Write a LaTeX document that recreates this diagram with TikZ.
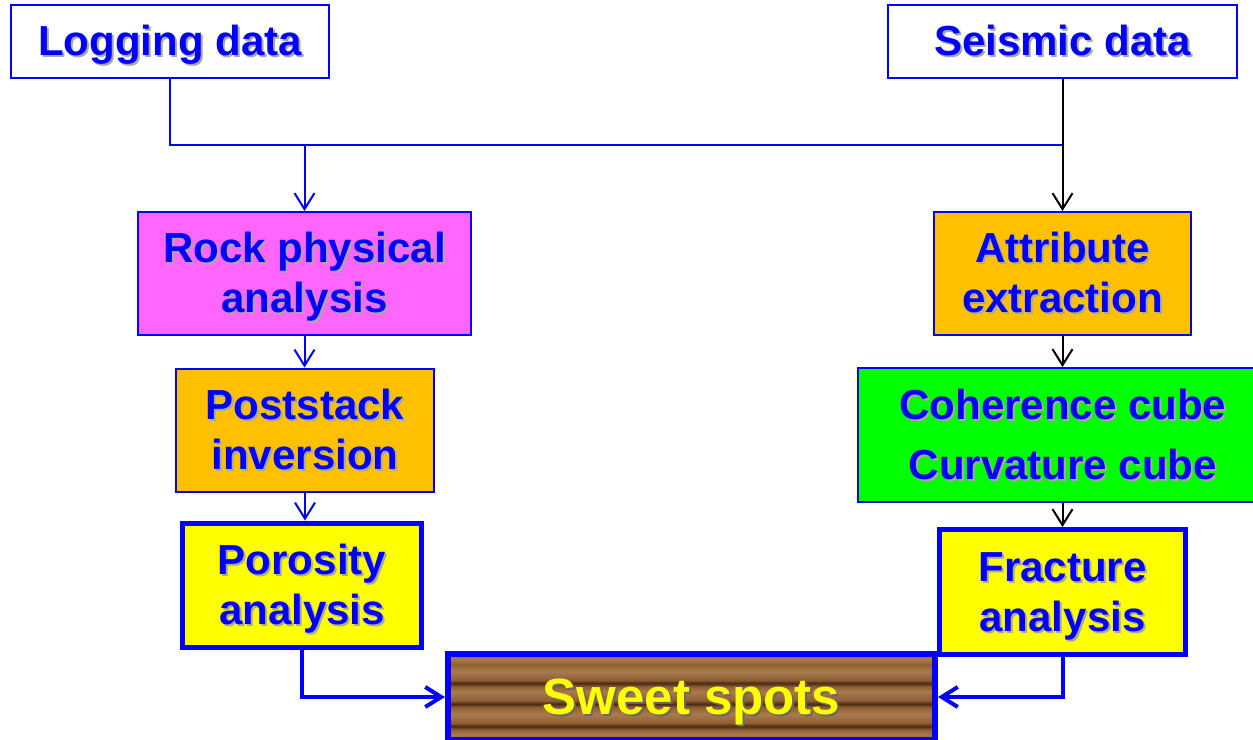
\documentclass[tikz,border=0pt]{standalone}
\usepackage{fontspec}
\setmainfont{Liberation Sans}
\usetikzlibrary{arrows.meta}

\definecolor{lineblue}{HTML}{0000FF}
\definecolor{rockpink}{HTML}{FF66FF}
\definecolor{procorange}{HTML}{FFC000}
\definecolor{cubegreen}{HTML}{00FF00}
\definecolor{resyellow}{HTML}{FFFF00}
\definecolor{txtshadow}{HTML}{A8A8A0}
\definecolor{sweetshadow}{HTML}{6A6A60}
\definecolor{woodlight}{HTML}{A87A4D}
\definecolor{woodmid}{HTML}{8F6035}
\definecolor{wooddark}{HTML}{4B2A12}

% text with a soft drop shadow, one line at a time (boxed to cap height so lines centre alike)
\newcommand{\shad}[2][txtshadow]{\leavevmode\raisebox{0pt}[\fontcharht\font`H][0pt]{\rlap{\kern2pt\raisebox{-2pt}{\color{#1}#2}}#2}}

% horizontal grain of the sweet spots board
\pgfdeclareverticalshading{woodgrain}{100bp}{
  color(0bp)=(woodmid); color(25bp)=(woodmid); color(28bp)=(woodlight);
  color(31bp)=(woodmid); color(33bp)=(wooddark); color(35bp)=(woodmid);
  color(40bp)=(woodlight); color(44bp)=(woodmid); color(46bp)=(wooddark);
  color(48bp)=(woodmid); color(53bp)=(woodlight); color(56bp)=(woodmid);
  color(58bp)=(wooddark); color(60bp)=(woodmid); color(65bp)=(woodlight);
  color(69bp)=(woodmid); color(72bp)=(woodlight); color(75bp)=(woodmid);
  color(100bp)=(woodmid)}

\tikzset{
  box/.style={draw=lineblue, line width=2pt, inner sep=0pt, align=center,
    text=lineblue, font=\fontsize{42}{50}\selectfont\bfseries},
  databox/.style={box, fill=white},
  procbox/.style={box},
  resbox/.style={box, fill=resyellow, line width=5pt},
  sweetbox/.style={box, shading=woodgrain, line width=6pt, text=resyellow,
    font=\fontsize{51}{60}\selectfont\bfseries},
  tip/.style={-{Straight Barb[length=16pt,width=20pt]}},
  wire/.style={draw=lineblue, line width=2pt},
  flow/.style={wire, tip},
  flowblack/.style={draw=black, line width=2pt, tip},
  flowthick/.style={draw=lineblue, line width=4pt, tip}
}

\begin{document}
\begin{tikzpicture}[x=1pt,y=-1pt]
\useasboundingbox (0,0) rectangle (1253,739);
\clip (0,0) rectangle (1253,739);

% inputs
\node[databox, minimum width=318pt, minimum height=73pt] (logging) at (170,41.5) {\shad{Logging data}};
\node[databox, minimum width=349pt, minimum height=73pt] (seismic) at (1062.5,41.5) {\shad{Seismic data}};

% left branch
\node[procbox, fill=rockpink, minimum width=333pt, minimum height=123pt] (rock) at (304.5,273.5) {\shad{Rock physical}\\\shad{analysis}};
\node[procbox, fill=procorange, minimum width=258pt, minimum height=123pt] (post) at (305,430) {\shad{Poststack}\\\shad{inversion}};
\node[resbox, minimum width=239pt, minimum height=124pt] (poro) at (302,585) {\shad{Porosity}\\\shad{analysis}};

% right branch
\node[procbox, fill=procorange, minimum width=257pt, minimum height=123pt] (attr) at (1062.5,273.5) {\shad{Attribute}\\\shad{extraction}};
\node[procbox, fill=cubegreen, minimum width=410pt, minimum height=134pt,
  font=\fontsize{42}{60}\selectfont\bfseries] (cube) at (1063,435) {\shad{Coherence cube}\\\shad{Curvature cube}};
\node[resbox, minimum width=246pt, minimum height=125pt] (frac) at (1062.5,592) {\shad{Fracture}\\\shad{analysis}};

% result
\node[sweetbox, minimum width=487pt, minimum height=86pt] (sweet) at (691.5,697) {\shad[sweetshadow]{Sweet spots}};

% connectors
\coordinate (bus) at (1062.5,145);
\draw[wire] (logging.south) |- (bus);
\draw[flow] (rock.north |- bus) -- (rock.north);
\draw[flowblack] (seismic.south) -- (attr.north);
\draw[flow] (rock.south) -- (rock.south |- post.north);
\draw[flow] (post.south) -- (post.south |- poro.north);
\draw[flowblack] (attr.south) -- (attr.south |- cube.north);
\draw[flowblack] (attr.south |- cube.south) -- (frac.north);
\draw[flowthick] (poro.south) |- (sweet.west);
\draw[flowthick] (frac.south) |- (sweet.east);
\end{tikzpicture}
\end{document}
